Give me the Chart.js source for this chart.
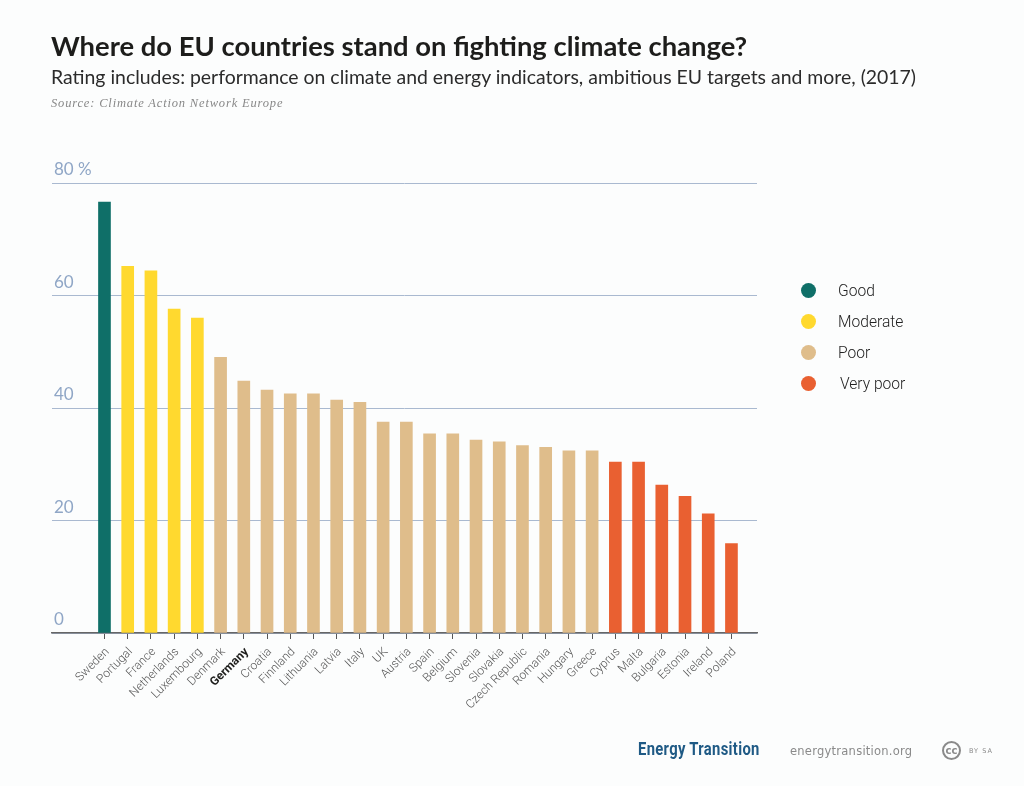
<!DOCTYPE html><html>
<head>
<meta charset="UTF-8">
<script src="https://cdn.jsdelivr.net/npm/chart.js@4"></script>
<style>
 html,body{margin:0;padding:0;background:#fcfdfd;}
 #page{position:relative;width:1024px;height:786px;overflow:hidden;font-family:Lato,sans-serif;font-variant-ligatures:none;}
 #page canvas{position:absolute;left:0;top:0;}
 .txt{position:absolute;white-space:nowrap;}
 #title{left:51px;top:29px;font:700 27.4px Lato;color:#1d1d1b;}
 #subtitle{left:51px;top:65px;font:400 19.43px Lato;color:#2b2b2b;}
 #source{left:51px;top:96px;font:italic 400 12.5px "Liberation Serif";letter-spacing:.83px;color:#888;}
 .dot{position:absolute;left:801px;width:15px;height:15px;border-radius:50%;}
 .leg{position:absolute;left:838px;font:300 15.6px Roboto;color:#222;white-space:nowrap;}
 #brand{left:638px;top:738px;font:700 18.5px Roboto;letter-spacing:.4px;color:#1f5a85;transform:scaleX(.8);transform-origin:left top;}
 #site{left:790px;top:744px;font:400 11.5px "DejaVu Sans";letter-spacing:.25px;color:#8a8a8a;}
 #cc{left:942px;top:741px;width:15px;height:15px;border:2.5px solid #8a8a8a;border-radius:50%;font:700 10px/15px "DejaVu Sans";color:#8a8a8a;text-align:center;}
 #bysa{left:969px;top:747px;font:400 6.5px "DejaVu Sans";letter-spacing:1px;color:#8a8a8a;}
</style>
</head>
<body>
<div id="page">
 <canvas id="canvas_rating" width="1024" height="786"></canvas>
 <div class="txt" id="title">Where do EU countries stand on fighting climate change?</div>
 <div class="txt" id="subtitle">Rating includes: performance on climate and energy indicators, ambitious EU targets and more, (2017)</div>
 <div class="txt" id="source">Source: Climate Action Network Europe</div>
 <div id="legend"></div>
 <div class="txt" id="brand">Energy Transition</div>
 <div class="txt" id="site">energytransition.org</div>
 <div class="txt" id="cc">cc</div>
 <div class="txt" id="bysa">BY SA</div>
</div>
<script>
var countries = ["Sweden","Portugal","France","Netherlands","Luxembourg","Denmark","Germany","Croatia","Finnland","Lithuania","Latvia","Italy","UK","Austria","Spain","Belgium","Slovenia","Slovakia","Czech Republic","Romania","Hungary","Greece","Cyprus","Malta","Bulgaria","Estonia","Ireland","Poland"];
var scores = [76.6,65.2,64.4,57.6,56,49,44.8,43.2,42.5,42.5,41.4,41,37.5,37.5,35.4,35.4,34.3,34,33.3,33,32.4,32.4,30.4,30.4,26.3,24.3,21.2,15.9];
var ratings = ["Good","Moderate","Moderate","Moderate","Moderate","Poor","Poor","Poor","Poor","Poor","Poor","Poor","Poor","Poor","Poor","Poor","Poor","Poor","Poor","Poor","Poor","Poor","Very poor","Very poor","Very poor","Very poor","Very poor","Very poor"];
var ratingNames = ["Good","Moderate","Poor","Very poor"];
var ratingColors = ["#0f6f68","#ffd92f","#dfbd8b","#e96031"];
var yTicks = [0,20,40,60,80];

// legend
var legendTop = [283,314,345,376];
ratingNames.forEach(function(name,i){
 var d = document.createElement('div');
 d.className = 'dot';
 d.style.top = legendTop[i] + 'px';
 d.style.background = ratingColors[i];
 var l = document.createElement('div');
 l.className = 'leg';
 l.style.top = (legendTop[i]-1) + 'px';
 if(name == "Very poor") l.style.left = '840px';
 l.textContent = name;
 document.getElementById('legend').appendChild(d);
 document.getElementById('legend').appendChild(l);
});

var the_chart = new Chart(document.getElementById('canvas_rating'), {
 type: 'bar',
 data: {
  datasets: [{
   data: scores.map(function(v,i){ return {x:i,y:v}; }),
   backgroundColor: ratings.map(function(r){ return ratingColors[ratingNames.indexOf(r)]; }),
   barThickness: 12,
   borderWidth: 0
  }]
 },
 options: {
  responsive: false,
  animation: false,
  layout: {padding: {top:183,right:267,left:52,bottom:0}},
  plugins: {legend:{display:false},title:{display:false},tooltip:{enabled:false}},
  scales: {
   x: {
    type: 'linear',
    offset: false,
    min: -2.26,
    max: 28.1,
    afterBuildTicks: function(s){ s.ticks = countries.map(function(c,i){ return {value:i}; }); },
    afterFit: function(s){ s.height = 153; },
    grid: {offset:false, drawOnChartArea:false, drawTicks:true, tickLength:6, tickColor:'#555', tickWidth:1},
    border: {color:'#666', width:1.5},
    ticks: {
     autoSkip:false, maxRotation:45, minRotation:45, padding:6, labelOffset:3,
     callback: function(v){ return countries[v]; },
     color: function(c){ return countries[c.index]=="Germany" ? '#1d1d1b' : '#555'; },
     font: function(c){ return countries[c.index]=="Germany" ? {family:'Roboto',size:12,weight:'bold'} : {family:'Roboto',size:12,weight:'300'}; }
    }
   },
   y: {
    min: 0,
    max: 80,
    afterBuildTicks: function(s){ s.ticks = yTicks.map(function(v){ return {value:v}; }); },
    afterFit: function(s){ s.width = 0; },
    grid: {color:'#a9b9d0', lineWidth:1, drawTicks:false},
    border: {display:false},
    ticks: {
     mirror:true, padding:2, labelOffset:-13, color:'#8fa6c6',
     font:{family:'Lato',size:17,weight:'400'},
     callback: function(v){ return v==80 ? v+' %' : v; }
    }
   }
  }
 }
});
</script>
</body>
</html>
